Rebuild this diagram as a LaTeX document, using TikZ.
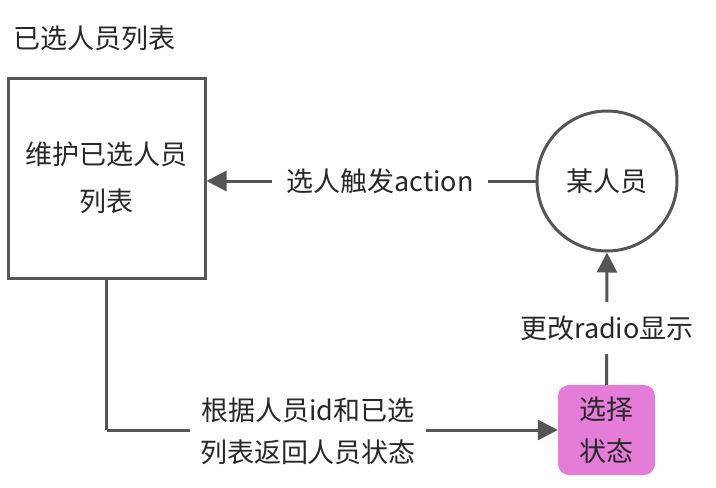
\documentclass[tikz,border=0pt]{standalone}
\usepackage{fontspec}
\setmainfont{Noto Sans CJK SC}
\usetikzlibrary{arrows.meta}
\definecolor{linegray}{RGB}{85,85,85}
\definecolor{txt}{RGB}{40,40,40}
\definecolor{pinkfill}{RGB}{229,124,216}
\tikzset{
  conn/.style={draw=linegray, line width=3pt, -{Triangle[length=20pt,width=20pt]}},
  plainconn/.style={draw=linegray, line width=3pt},
  lbl/.style={fill=white, text=txt, font=\fontsize{27}{42}\selectfont, align=center, inner xsep=14pt, inner ysep=10pt},
  txtstyle/.style={text=txt, font=\fontsize{27}{42}\selectfont, align=center},
}
\begin{document}
\begin{tikzpicture}[x=1pt,y=-1pt]
\useasboundingbox (0,0) rectangle (716,488);
\node[txtstyle, anchor=west, inner sep=0pt] (title) at (13,38) {已选人员列表};
\node[draw=linegray, line width=3pt, minimum width=197pt, minimum height=200pt, txtstyle, font=\fontsize{27}{47}\selectfont] (list) at (106.5,178) {维护已选人员\\列表};
\node[draw=linegray, line width=3pt, circle, minimum size=140pt, txtstyle, inner sep=0pt] (person) at (607,181) {某人员};
\node[fill=pinkfill, rounded corners=11pt, minimum width=97pt, minimum height=90pt, txtstyle, inner sep=0pt] (state) at (606.5,430) {选择\\状态};
\coordinate (corner) at (list.south |- state.west);
\draw[conn] (person.west) -- (list.east |- person.west);
\node[lbl] (l1) at (380,181) {选人触发action};
\draw[conn] (state.north) -- (person.south);
\node[lbl, inner xsep=4pt, inner ysep=14pt] (l2) at (607,328) {更改radio显示};
\draw[plainconn] (list.south) -- (corner);
\draw[conn] (corner) -- (state.west);
\node[lbl, inner xsep=10pt, inner ysep=2pt] (l3) at (308,431) {根据人员id和已选\\列表返回人员状态};
\end{tikzpicture}
\end{document}
